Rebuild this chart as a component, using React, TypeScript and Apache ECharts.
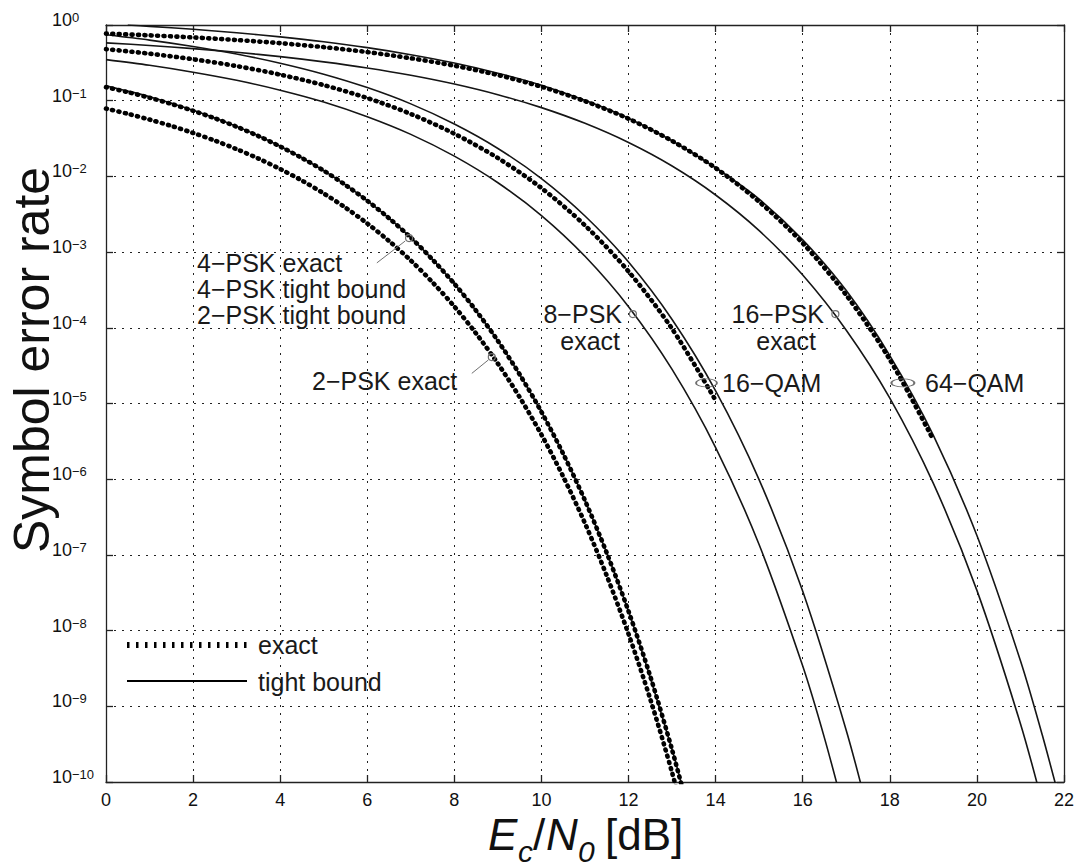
import React, { useEffect, useRef } from 'react';
import * as echarts from 'echarts';

const FONT = '"Liberation Sans", Arial, Helvetica, sans-serif';

// ---- data (Ec/N0 in dB, symbol error rate) ----
const ebnoHalf = [0, 0.5, 1, 1.5, 2, 2.5, 3, 3.5, 4, 4.5, 5, 5.5, 6, 6.5, 7, 7.5, 8, 8.5, 9, 9.5, 10, 10.5, 11, 11.5, 12, 12.5, 13, 13.5];
const bpskExact = [0.0786, 0.0671, 0.0563, 0.0464, 0.0375, 0.0297, 0.0229, 0.0172, 0.0125, 0.0088, 0.00595, 0.00386, 0.00239, 0.0014, 7.73e-4, 3.98e-4, 1.91e-4, 8.4e-5, 3.36e-5, 1.21e-5, 3.87e-6, 1.08e-6, 2.61e-7, 5.3e-8, 9.0e-9, 1.24e-9, 1.33e-10, 1.1e-11];
const qpskExact = [0.151, 0.1297, 0.1094, 0.0907, 0.0736, 0.0585, 0.0453, 0.0341, 0.0248, 0.0175, 0.0119, 0.0077, 0.00477, 0.0028, 1.55e-3, 7.96e-4, 3.82e-4, 1.68e-4, 6.72e-5, 2.42e-5, 7.74e-6, 2.16e-6, 5.22e-7, 1.06e-7, 1.8e-8, 2.48e-9, 2.66e-10, 2.2e-11];

const ebnoPskBound = [0, 1, 2, 3, 4, 5, 6, 7, 8, 9, 10, 11, 12, 13, 13.5];
const pskTightBound = [0.157, 0.113, 0.075, 0.0458, 0.025, 0.0119, 0.00478, 1.55e-3, 3.82e-4, 6.72e-5, 7.74e-6, 5.22e-7, 1.8e-8, 2.66e-10, 2.2e-11];

const ebno8psk = [0, 1, 2, 3, 4, 5, 6, 7, 8, 9, 10, 11, 12, 13, 14, 15, 16, 16.5, 17];
const psk8 = [0.349, 0.294, 0.238, 0.186, 0.1376, 0.096, 0.0614, 0.0359, 0.0185, 0.00824, 0.00304, 8.8e-4, 1.9e-4, 2.82e-5, 2.62e-6, 1.36e-7, 3.4e-9, 3.8e-10, 3.2e-11];

const ebno16psk = [0, 1, 2, 3, 4, 5, 6, 7, 8, 9, 10, 11, 12, 13, 14, 15, 16, 17, 18, 19, 20, 21, 21.5];
const psk16 = [0.581, 0.536, 0.487, 0.436, 0.382, 0.326, 0.271, 0.217, 0.166, 0.12, 0.081, 0.0502, 0.028, 0.0137, 0.00568, 0.00192, 4.98e-4, 9.3e-5, 1.18e-5, 8.8e-7, 3.4e-8, 5.9e-10, 5.3e-11];

const ebno16qamExact = [0, 1, 2, 3, 4, 5, 6, 7, 8, 9, 10, 11, 12, 13, 14];
const qam16Exact = [0.48, 0.418, 0.353, 0.2865, 0.221, 0.1606, 0.1085, 0.0668, 0.0366, 0.01746, 0.00701, 2.25e-3, 5.54e-4, 9.7e-5, 1.1e-5];

const ebno16qamBound = [0, 1, 2, 3, 4, 5, 6, 7, 8, 9, 10, 11, 12, 13, 14, 15, 16, 17, 17.5];
const qam16Bound = [0.743, 0.632, 0.521, 0.414, 0.313, 0.224, 0.149, 0.0908, 0.0492, 0.0234, 0.00936, 3.0e-3, 7.4e-4, 1.29e-4, 1.47e-5, 9.8e-7, 3.3e-8, 4.8e-10, 4e-11];

const ebno64qamExact = [0, 1, 2, 3, 4, 5, 6, 7, 8, 9, 10, 11, 12, 13, 14, 15, 16, 17, 18, 19];
const qam64Exact = [0.769, 0.73, 0.685, 0.633, 0.575, 0.51, 0.439, 0.364, 0.29, 0.218, 0.153, 0.0986, 0.0578, 0.0294, 0.0129, 0.00462, 1.31e-3, 2.7e-4, 3.8e-5, 3.3e-6];

const ebno64qamBound = [0.5, 1, 2, 3, 4, 5, 6, 7, 8, 9, 10, 11, 12, 13, 14, 15, 16, 17, 18, 19, 20, 21, 21.5, 22];
const qam64Bound = [1.0, 0.96, 0.878, 0.789, 0.696, 0.6, 0.502, 0.405, 0.315, 0.231, 0.16, 0.101, 0.0587, 0.0296, 0.013, 0.005, 1.45e-3, 3.1e-4, 4.3e-5, 3.8e-6, 1.8e-7, 4e-9, 4.2e-10, 3.5e-11];

// annotation anchors on the curves [dB, SER]
const ring2psk = [8.86, 4.1e-5];
const ring4psk = [6.96, 1.53e-3];
const ring8psk = [12.1, 1.52e-4];
const ring16psk = [16.75, 1.52e-4];
const ring16qam = [13.79, 1.87e-5];
const ring64qam = [18.3, 1.87e-5];
const pointer2psk = [[8.4, 2.5e-5], [8.78, 3.76e-5]];
const pointer4psk = [[6.22, 7.2e-4], [6.87, 1.4e-3]];

const xTickMin = 0;
const xTickMax = 22;
const xTickStep = 2;
const yExpMin = -10;
const yExpMax = 0;

export default function App() {
  const ref = useRef<HTMLDivElement>(null);

  useEffect(() => {
    const el = ref.current;
    if (!el) return;
    const chart = echarts.init(el, undefined, { renderer: 'svg' });

    const lg = (v: number) => Math.log10(v);
    const toPts = (xs: number[], ys: number[]) => xs.map((x, i) => [x, lg(ys[i])]);

    const ringPath = 'path://M2,1A1,1,0,1,1,0,1A1,1,0,1,1,2,1Z';
    const ringMark = (items: any[]) => ({
      silent: true,
      symbol: ringPath,
      itemStyle: { color: 'rgba(0,0,0,0)', borderColor: '#707070', borderWidth: 1.2 },
      label: { show: false },
      data: items,
    });
    const pointerMark = (p: number[][]) => ({
      silent: true,
      symbol: ['none', 'none'],
      label: { show: false },
      lineStyle: { color: '#707070', width: 1, type: 'solid' },
      data: [[{ coord: [p[0][0], lg(p[0][1])] }, { coord: [p[1][0], lg(p[1][1])] }]],
    });

    const thin = (name: string, xs: number[], ys: number[], extra: any = {}) => ({
      name, type: 'line', data: toPts(xs, ys), smooth: 0.3, symbol: 'none', showSymbol: false, clip: true,
      lineStyle: { color: '#151515', width: 1.6 }, z: 3, ...extra,
    });
    const thick = (name: string, xs: number[], ys: number[], extra: any = {}) => ({
      name, type: 'line', data: toPts(xs, ys), smooth: 0.3, symbol: 'none', showSymbol: false, clip: true,
      lineStyle: { color: '#000', width: 4.6, type: [1, 5.4], cap: 'round' }, z: 4, ...extra,
    });

    const axisLineStyle = { color: '#222', width: 1.3 };
    const gridDots = { color: '#222', width: 1, type: [2, 6] };

    const txt = (text: string, x: number, y: number, align: string = 'left') => ({
      type: 'text', x, y, silent: true, z: 20,
      style: { text, fontSize: 25, fontFamily: FONT, fill: '#1a1a1a', align, verticalAlign: 'middle' },
    });
    const titlePart = (text: string, x: number, y: number, size: number, italic: boolean) => ({
      type: 'text', x, y, silent: true, z: 20,
      style: {
        text, fontSize: size, fontStyle: italic ? 'italic' : 'normal', fontFamily: FONT,
        fill: '#111', align: 'left', verticalAlign: 'middle',
      },
    });

    chart.setOption({
      animation: false,
      backgroundColor: '#fff',
      grid: { left: 106, top: 25, width: 958, height: 757, containLabel: false, outerBoundsMode: 'none' },
      xAxis: [
        {
          type: 'value', min: xTickMin, max: xTickMax, interval: xTickStep,
          axisLine: { show: true, onZero: false, lineStyle: axisLineStyle },
          axisTick: { show: true, inside: true, length: 7, lineStyle: axisLineStyle },
          axisLabel: { fontSize: 18, fontFamily: FONT, color: '#111', margin: 9 },
          splitLine: { show: true, lineStyle: gridDots },
        },
        {
          type: 'value', position: 'top', min: xTickMin, max: xTickMax, interval: xTickStep,
          axisLine: { show: true, onZero: false, lineStyle: axisLineStyle },
          axisTick: { show: true, inside: true, length: 7, lineStyle: axisLineStyle },
          axisLabel: { show: false },
          splitLine: { show: false },
        },
      ],
      yAxis: [
        {
          type: 'value', min: yExpMin, max: yExpMax, interval: 1,
          axisLine: { show: true, onZero: false, lineStyle: axisLineStyle },
          axisTick: { show: true, inside: true, length: 7, lineStyle: axisLineStyle },
          axisLabel: {
            showMinLabel: true, showMaxLabel: true,
            align: 'left', margin: 54,
            formatter: (v: number) => {
              const e = Math.round(v);
              return e === 0 ? '{b|10}{e|0}' : '{b|10}{e|\u2212' + -e + '}';
            },
            rich: {
              b: { fontSize: 18, fontFamily: FONT, color: '#111', lineHeight: 28, verticalAlign: 'top' },
              e: { fontSize: 13, fontFamily: FONT, color: '#111', lineHeight: 9, verticalAlign: 'top' },
            },
          },
          splitLine: { show: true, lineStyle: gridDots },
        },
        {
          type: 'value', position: 'right', min: yExpMin, max: yExpMax, interval: 1,
          axisLine: { show: true, onZero: false, lineStyle: axisLineStyle },
          axisTick: { show: true, inside: true, length: 7, lineStyle: axisLineStyle },
          axisLabel: { show: false },
          splitLine: { show: false },
        },
      ],
      series: [
        thin('2/4-PSK tight bound', ebnoPskBound, pskTightBound),
        thin('8-PSK', ebno8psk, psk8, { markPoint: ringMark([{ coord: [ring8psk[0], lg(ring8psk[1])], symbolSize: [7, 7] }]) }),
        thin('16-PSK', ebno16psk, psk16, { markPoint: ringMark([{ coord: [ring16psk[0], lg(ring16psk[1])], symbolSize: [7, 7] }]) }),
        thin('16-QAM tight bound', ebno16qamBound, qam16Bound, { markPoint: ringMark([{ coord: [ring16qam[0], lg(ring16qam[1])], symbolSize: [21, 8] }]) }),
        thin('64-QAM tight bound', ebno64qamBound, qam64Bound, { markPoint: ringMark([{ coord: [ring64qam[0], lg(ring64qam[1])], symbolSize: [23, 8] }]) }),
        thick('2-PSK exact', ebnoHalf, bpskExact, {
          markPoint: ringMark([{ coord: [ring2psk[0], lg(ring2psk[1])], symbolSize: [7, 7] }]),
          markLine: pointerMark(pointer2psk),
        }),
        thick('4-PSK exact', ebnoHalf, qpskExact, {
          markPoint: ringMark([{ coord: [ring4psk[0], lg(ring4psk[1])], symbolSize: [7, 7] }]),
          markLine: pointerMark(pointer4psk),
        }),
        thick('16-QAM exact', ebno16qamExact, qam16Exact),
        thick('64-QAM exact', ebno64qamExact, qam64Exact),
      ],
      graphic: [
        txt('4\u2212PSK exact', 197, 263),
        txt('4\u2212PSK tight bound', 197, 289),
        txt('2\u2212PSK tight bound', 197, 315),
        txt('2\u2212PSK exact', 312, 381),
        txt('8\u2212PSK', 622, 314, 'right'),
        txt('exact', 620, 341, 'right'),
        txt('16\u2212PSK', 824, 314, 'right'),
        txt('exact', 816, 341, 'right'),
        txt('16\u2212QAM', 722, 383),
        txt('64\u2212QAM', 925, 383),
        {
          type: 'line', silent: true, z: 20,
          shape: { x1: 127, y1: 645, x2: 247, y2: 645 },
          style: { stroke: '#000', lineWidth: 6, lineDash: [2.5, 6.5] },
        },
        {
          type: 'line', silent: true, z: 20,
          shape: { x1: 127, y1: 681, x2: 247, y2: 681 },
          style: { stroke: '#000', lineWidth: 2.2 },
        },
        txt('exact', 258, 645),
        txt('tight bound', 258, 682),
        {
          type: 'text', x: 32, y: 360, rotation: Math.PI / 2, silent: true, z: 20,
          style: { text: 'Symbol error rate', fontSize: 50, fontFamily: FONT, fill: '#111', align: 'center', verticalAlign: 'middle' },
        },
        titlePart('E', 488, 834, 44, true),
        titlePart('c', 518, 851, 30, true),
        titlePart('/', 533, 834, 44, false),
        titlePart('N', 546, 834, 44, true),
        titlePart('0', 578, 851, 30, true),
        titlePart('[dB]', 605, 834, 44, false),
      ],
    });

    return () => chart.dispose();
  }, []);

  return (
    <div
      ref={ref}
      style={{ position: 'fixed', left: 0, top: 0, width: 1083, height: 866, background: '#fff' }}
    />
  );
}
